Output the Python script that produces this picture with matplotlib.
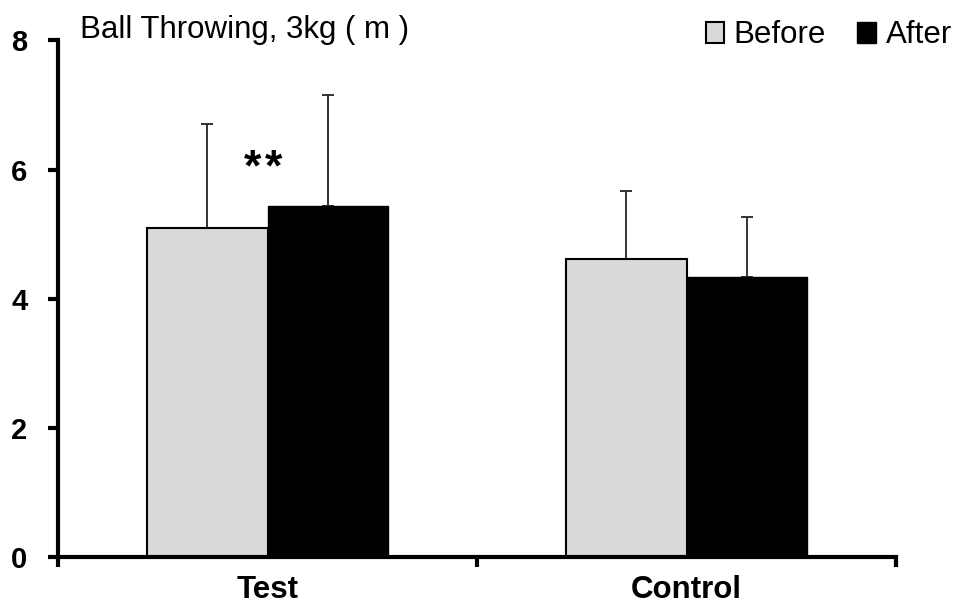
import matplotlib
matplotlib.use("Agg")
import matplotlib.pyplot as plt
import numpy as np
from matplotlib.patches import Patch

plt.rcParams['font.family'] = ['Liberation Sans', 'DejaVu Sans']

groups = ["Test", "Control"]
before_mean = [5.09, 4.61]
before_sd = [1.62, 1.06]
after_mean = [5.44, 4.33]
after_sd = [1.71, 0.93]
y_ticks = [0, 2, 4, 6, 8]
title = "Ball Throwing, 3kg ( m )"
signif = "*\u200a*"
signif_y = 6.0

fig = plt.figure(figsize=(9.59, 6.08), dpi=100)
ax = fig.add_axes([0.0605, 0.0839, 0.8738, 0.8495])

x = np.arange(len(groups))
w = 0.287
err_kw = dict(ecolor="#333333", elinewidth=1.4, capsize=4.5, capthick=1.4,
              zorder=1)

ax.bar(x - w / 2, before_mean, w, color="#D9D9D9", edgecolor="black",
       linewidth=1.5, yerr=[np.zeros(len(groups)), before_sd],
       error_kw=err_kw, zorder=2)
ax.bar(x + w / 2, after_mean, w, color="black", edgecolor="black",
       linewidth=1.0, yerr=[np.zeros(len(groups)), after_sd],
       error_kw=err_kw, zorder=2)

ax.text(x[0] - 0.01, signif_y, signif, ha="center", va="center",
        fontsize=32, fontweight="bold")

ax.set_xlim(-0.5, len(groups) - 0.5)
ax.set_ylim(0, 8)

for s in ["top", "right"]:
    ax.spines[s].set_visible(False)
for s in ["left", "bottom"]:
    ax.spines[s].set_linewidth(3)

ax.set_yticks(y_ticks)
ax.set_yticklabels([str(t) for t in y_ticks], fontsize=21, fontweight="bold")
ax.tick_params(axis="y", direction="out", length=7, width=3, pad=15)

ax.set_xticks(np.arange(-0.5, len(groups), 1.0))
ax.set_xticklabels([])
ax.tick_params(axis="x", which="major", direction="out", length=7, width=3)
ax.set_xticks(x, minor=True)
ax.set_xticklabels(groups, minor=True, fontsize=22.5, fontweight="bold")
ax.tick_params(axis="x", which="minor", length=0, pad=13)

fig.text(80 / 959, 1 - 38 / 608, title, fontsize=22.5, ha="left",
         va="baseline")

handles = [Patch(facecolor="#D9D9D9", edgecolor="black", linewidth=1.5,
                 label="Before"),
           Patch(facecolor="black", edgecolor="black", label="After")]
fig.legend(handles=handles, loc="upper right", bbox_to_anchor=(1.0137, 1.0),
           ncol=2, frameon=False, fontsize=22.5, handlelength=0.6,
           handleheight=0.65, handletextpad=0.3, columnspacing=1.0,
           borderaxespad=0.25)

fig.savefig("out.png", dpi=100)
